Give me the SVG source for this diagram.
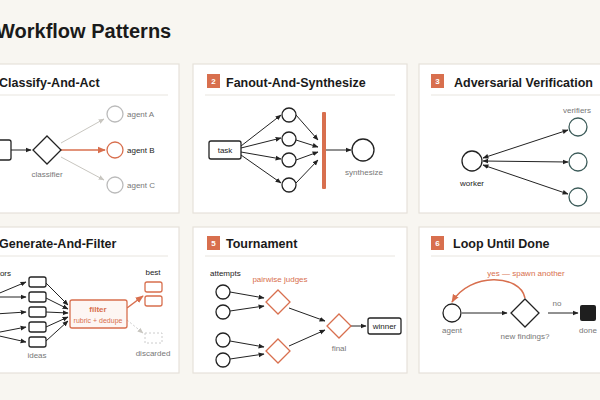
<svg xmlns="http://www.w3.org/2000/svg" width="600" height="400" viewBox="0 0 600 400">
<style>
text{font-family:"Liberation Sans",Arial,sans-serif}
.panel{fill:#fff;stroke:#e6e2da;stroke-width:1.2}
.t{font-size:12.5px;font-weight:bold;fill:#1a1a1a}
.badge{fill:#d86f4e}
.bn{font-size:8px;font-weight:bold;fill:#fff;text-anchor:middle}
.div{stroke:#e8e5df;stroke-width:1}
.lbl{font-size:8px;fill:#777;text-anchor:middle}
.lblk{font-size:8px;fill:#222}
.o{fill:#d86f4e}
.n{fill:#fff;stroke:#222;stroke-width:1.3}
.no{fill:#fff;stroke:#d86f4e;stroke-width:1.3}
.ng{fill:#fff;stroke:#bbb;stroke-width:1.3}
.nt{fill:#fff;stroke:#3d5c5a;stroke-width:1.3}
.e{stroke:#222;stroke-width:1;fill:none;marker-end:url(#ak)}
.eg{stroke:#c8c6c0;stroke-width:1;fill:none;marker-end:url(#ag)}
.eo{stroke:#d86f4e;stroke-width:1.5;fill:none;marker-end:url(#ao)}
</style>
<defs>
<marker id="ak" viewBox="0 0 10 10" refX="9" refY="5" markerWidth="6" markerHeight="6" orient="auto-start-reverse"><path d="M0,1L10,5L0,9z" fill="#222"/></marker>
<marker id="ag" viewBox="0 0 10 10" refX="9" refY="5" markerWidth="6" markerHeight="6" orient="auto"><path d="M0,1L10,5L0,9z" fill="#c8c6c0"/></marker>
<marker id="ao" viewBox="0 0 10 10" refX="9" refY="5" markerWidth="5.5" markerHeight="5.5" orient="auto"><path d="M0,1L10,5L0,9z" fill="#d86f4e"/></marker>
</defs>
<rect width="600" height="400" fill="#f8f6f1"/>
<text x="-4" y="38" font-size="20" font-weight="bold" fill="#1a1a1a">Workflow Patterns</text>

<g id="panels">
<rect class="panel" x="-40" y="64" width="219" height="149"/>
<rect class="panel" x="193" y="64" width="214" height="149"/>
<rect class="panel" x="419" y="64" width="200" height="149"/>
<rect class="panel" x="-40" y="227" width="219" height="146"/>
<rect class="panel" x="193" y="227" width="214" height="146"/>
<rect class="panel" x="419" y="227" width="200" height="146"/>
</g>
<g id="headers">
<text class="t" x="-1" y="87">Classify-And-Act</text>
<line class="div" x1="-20" y1="95" x2="168" y2="95"/>
<rect class="badge" x="207" y="74" width="13" height="14"/><text class="bn" x="213.5" y="84">2</text>
<text class="t" x="226" y="87">Fanout-And-Synthesize</text>
<line class="div" x1="205" y1="95" x2="395" y2="95"/>
<rect class="badge" x="431" y="74" width="13" height="14"/><text class="bn" x="437.5" y="84">3</text>
<text class="t" x="454" y="87">Adversarial Verification</text>
<line class="div" x1="431" y1="95" x2="600" y2="95"/>
<text class="t" x="-1" y="248">Generate-And-Filter</text>
<line class="div" x1="-20" y1="256" x2="168" y2="256"/>
<rect class="badge" x="207" y="236" width="13" height="14"/><text class="bn" x="213.5" y="246">5</text>
<text class="t" x="226" y="248">Tournament</text>
<line class="div" x1="205" y1="256" x2="395" y2="256"/>
<rect class="badge" x="431" y="236" width="13" height="14"/><text class="bn" x="437.5" y="246">6</text>
<text class="t" x="453" y="248">Loop Until Done</text>
<line class="div" x1="431" y1="256" x2="600" y2="256"/>
</g>

<g id="connectors">
<line class="e" x1="11" y1="150" x2="31" y2="150"/>
<line class="eg" x1="61" y1="143" x2="104" y2="119"/>
<line class="eo" x1="61" y1="150" x2="105" y2="150"/>
<line class="eg" x1="61" y1="157" x2="104" y2="180"/>
<line class="e" x1="241" y1="146" x2="281" y2="115"/>
<line class="e" x1="241" y1="148" x2="281" y2="138"/>
<line class="e" x1="241" y1="152" x2="281" y2="159"/>
<line class="e" x1="241" y1="155" x2="281" y2="183"/>
<line class="e" x1="296" y1="115" x2="318" y2="140"/>
<line class="e" x1="296" y1="140" x2="318" y2="147"/>
<line class="e" x1="296" y1="160" x2="318" y2="152"/>
<line class="e" x1="296" y1="183" x2="318" y2="160"/>
<line class="e" x1="326" y1="150" x2="351" y2="150"/>
<line class="e" style="marker-start:url(#ak)" x1="483" y1="158" x2="568" y2="130"/>
<line class="e" style="marker-start:url(#ak)" x1="483" y1="161" x2="568" y2="162"/>
<line class="e" style="marker-start:url(#ak)" x1="483" y1="165" x2="568" y2="194"/>
<line class="e" x1="-5" y1="295" x2="26" y2="282"/>
<line class="e" x1="-5" y1="297" x2="26" y2="297"/>
<line class="e" x1="-5" y1="314" x2="26" y2="312"/>
<line class="e" x1="-5" y1="333" x2="26" y2="327"/>
<line class="e" x1="-5" y1="335" x2="26" y2="342"/>
<line class="e" x1="46" y1="283" x2="68" y2="305"/>
<line class="e" x1="46" y1="298" x2="68" y2="309"/>
<line class="e" x1="46" y1="312" x2="68" y2="313"/>
<line class="e" x1="46" y1="327" x2="68" y2="317"/>
<line class="e" x1="46" y1="341" x2="68" y2="321"/>
<line class="eo" x1="127" y1="308" x2="143" y2="296"/>
<line stroke="#ccc" stroke-width="1" stroke-dasharray="2,2" x1="127" y1="320" x2="143" y2="333" marker-end="url(#ag)"/>
<line class="e" x1="230" y1="292" x2="264" y2="298"/>
<line class="e" x1="230" y1="311" x2="264" y2="306"/>
<line class="e" x1="230" y1="341" x2="264" y2="347"/>
<line class="e" x1="230" y1="359" x2="264" y2="354"/>
<line class="e" x1="289" y1="308" x2="325" y2="321"/>
<line class="e" x1="289" y1="346" x2="325" y2="330"/>
<line class="e" x1="351" y1="326" x2="366" y2="326"/>
<line class="e" x1="462" y1="313" x2="507" y2="313"/>
<line class="e" x1="548" y1="313" x2="578" y2="313"/>
<path class="eo" d="M525,298 C520,274 470,272 452,302"/>
</g>

<g id="n1">
<rect class="n" x="-20" y="140" width="31" height="20" rx="2"/>
<polygon class="n" points="47,136 61,150 47,164 33,150"/>
<text class="lbl" x="47" y="177">classifier</text>
<circle class="ng" cx="115" cy="114" r="8"/><text class="lblk" x="127" y="117" style="fill:#777">agent A</text>
<circle class="no" cx="115" cy="150" r="8"/><text class="lblk" x="127" y="153">agent B</text>
<circle class="ng" cx="115" cy="185" r="8"/><text class="lblk" x="127" y="188" style="fill:#777">agent C</text>
</g>
<g id="n2">
<rect class="n" x="209" y="141" width="32" height="18" rx="2"/><text class="lblk" x="225" y="153" text-anchor="middle">task</text>
<circle class="n" cx="289" cy="115" r="7"/>
<circle class="n" cx="289" cy="139" r="7"/>
<circle class="n" cx="289" cy="160" r="7"/>
<circle class="n" cx="289" cy="185" r="7"/>
<rect class="o" x="322" y="112" width="4" height="77" rx="1"/>
<circle class="n" cx="363" cy="150" r="11"/>
<text class="lbl" x="364" y="175">synthesize</text>
</g>
<g id="n3">
<circle class="n" cx="472" cy="161" r="10"/><text class="lblk" x="472" y="186" text-anchor="middle">worker</text>
<text class="lbl" x="577" y="113">verifiers</text>
<circle class="nt" cx="578" cy="127" r="9"/>
<circle class="nt" cx="578" cy="162" r="9"/>
<circle class="nt" cx="578" cy="197" r="9"/>
</g>
<g id="n4">
<text class="lblk" x="11" y="276" text-anchor="end">generators</text>
<rect class="n" x="29" y="277" width="17" height="10" rx="2"/>
<rect class="n" x="29" y="292" width="17" height="10" rx="2"/>
<rect class="n" x="29" y="307" width="17" height="10" rx="2"/>
<rect class="n" x="29" y="322" width="17" height="10" rx="2"/>
<rect class="n" x="29" y="337" width="17" height="10" rx="2"/>
<text class="lbl" x="37" y="358">ideas</text>
<rect class="no" x="70" y="300" width="57" height="28" rx="2" style="fill:#fdf6f3"/>
<text x="98" y="312" font-size="8" font-weight="bold" fill="#d86f4e" text-anchor="middle">filter</text>
<text x="98" y="323" font-size="7" fill="#d86f4e" text-anchor="middle">rubric + dedupe</text>
<text class="lblk" x="153" y="275" text-anchor="middle">best</text>
<rect class="no" x="145" y="282" width="17" height="10" rx="2"/>
<rect class="no" x="145" y="296" width="17" height="10" rx="2"/>
<rect fill="none" stroke="#ccc" stroke-dasharray="2,2" x="145" y="333" width="17" height="10"/>
<text class="lbl" x="153" y="356">discarded</text>
</g>
<g id="n5">
<text class="lblk" x="210" y="276">attempts</text>
<text x="280" y="282" font-size="8" fill="#d86f4e" text-anchor="middle">pairwise judges</text>
<circle class="n" cx="223" cy="292" r="7"/>
<circle class="n" cx="223" cy="312" r="7"/>
<circle class="n" cx="223" cy="340" r="7"/>
<circle class="n" cx="223" cy="360" r="7"/>
<polygon class="no" points="278,290 290,302 278,314 266,302"/>
<polygon class="no" points="278,339 290,351 278,363 266,351"/>
<polygon class="no" points="339,314 351,326 339,338 327,326"/>
<text class="lbl" x="339" y="351">final</text>
<rect class="n" x="368" y="318" width="33" height="16" rx="2"/><text class="lblk" x="384.5" y="329" text-anchor="middle">winner</text>
</g>
<g id="n6">
<text x="526" y="276" font-size="8" fill="#d86f4e" text-anchor="middle">yes — spawn another</text>
<circle class="n" cx="452" cy="313" r="9"/><text class="lbl" x="452" y="333">agent</text>
<polygon class="n" points="525,299 539,313 525,327 511,313"/>
<text class="lbl" x="525" y="339">new findings?</text>
<text class="lbl" x="557" y="306">no</text>
<rect x="580" y="305" width="16" height="16" rx="2" fill="#1f1f1f"/>
<text class="lbl" x="588" y="333">done</text>
</g>
</svg>
